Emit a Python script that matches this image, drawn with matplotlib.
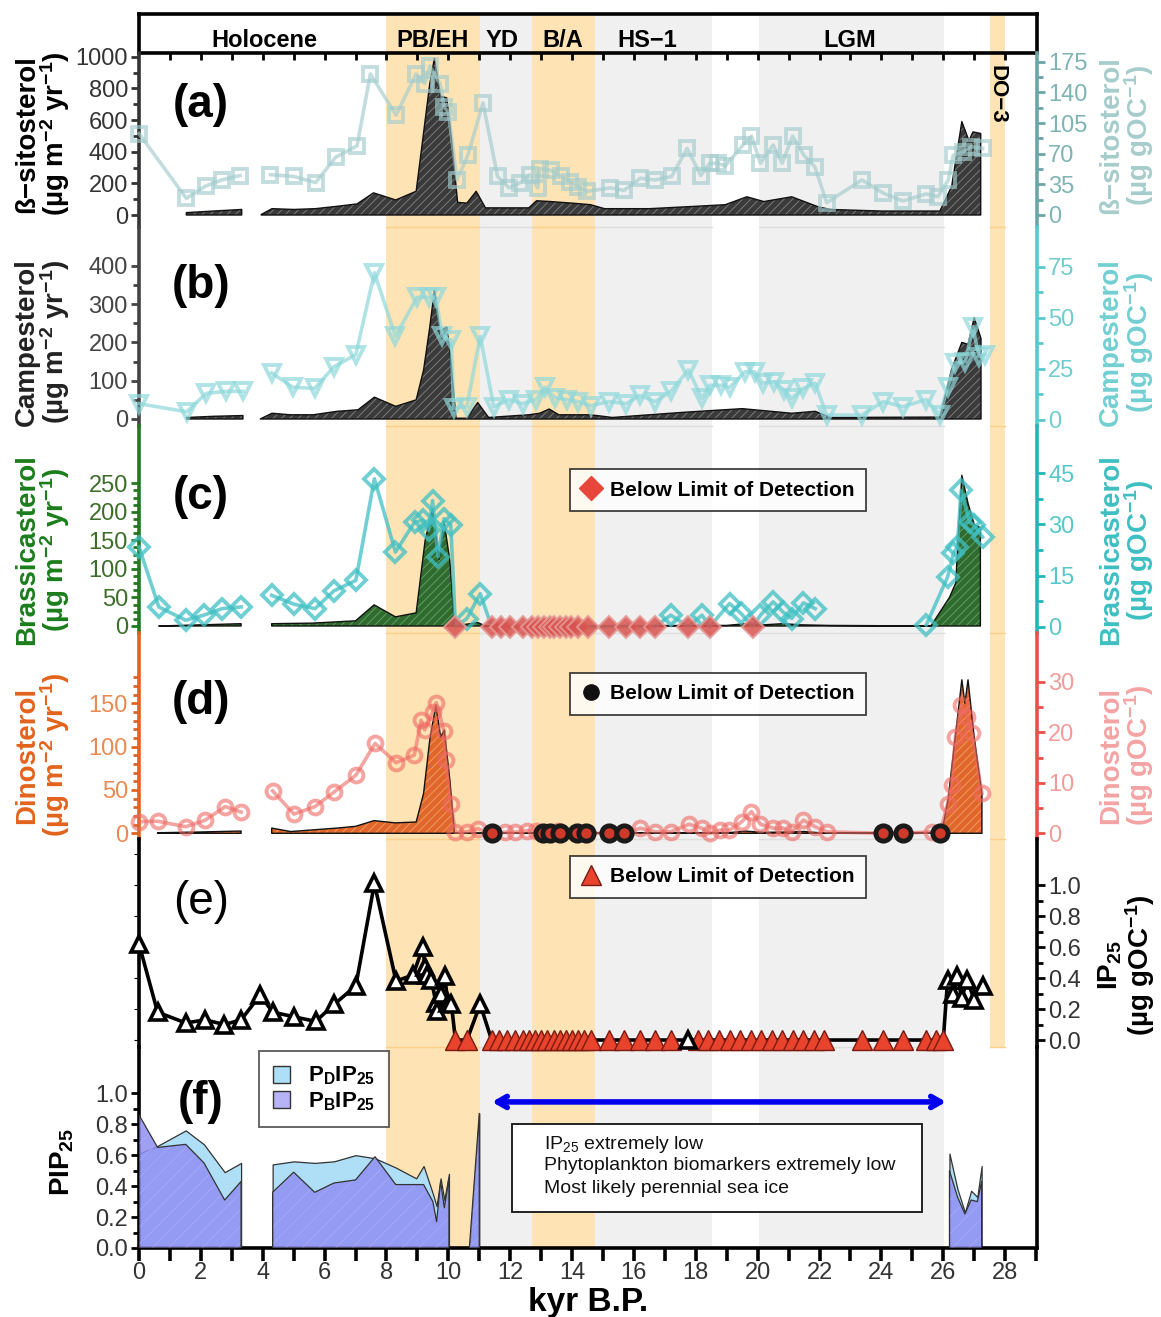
import numpy as np
import matplotlib.pyplot as plt
from matplotlib.patches import Rectangle, Patch
from matplotlib.lines import Line2D
from matplotlib.ticker import FixedLocator, FuncFormatter

plt.rcParams['font.family'] = ['Liberation Sans', 'DejaVu Sans']
plt.rcParams['mathtext.default'] = 'regular'
plt.rcParams['hatch.linewidth'] = 0.7

# ---- climate intervals (kyr B.P.) ----
period_names = ['Holocene', 'PB/EH', 'YD', 'B/A', 'HS\u22121', 'LGM']
period_mid = [4.04, 9.49, 11.75, 13.7, 16.44, 22.99]
warm_spans = [(8.0, 11.03), (12.7, 14.74)]
cold_spans = [(11.03, 12.7), (14.74, 18.52), (20.03, 26.01)]
do3_span = (27.5, 28.0)

# ---- (a) beta-sitosterol ----
a_flux_x1 = [1.53, 2.4, 3.32]
a_flux_y1 = [15, 25, 35]
a_flux_x2 = [3.95, 4.3, 5.0, 5.7, 6.4, 7.05, 7.58, 8.3, 8.96, 9.2, 9.4, 9.55, 9.75, 9.95, 10.1,
             10.3, 10.6, 10.9, 11.2, 12.6, 12.85, 13.3, 14.0, 14.6, 15.05, 16.5, 18.0, 18.95,
             19.65, 20.2, 21.1, 21.98, 22.36, 24.0, 25.89, 26.27, 26.6, 26.83, 26.96, 27.21]
a_flux_y2 = [3, 40, 35, 40, 55, 70, 140, 95, 150, 520, 830, 990, 750, 740, 480,
             80, 75, 150, 45, 45, 90, 85, 75, 65, 40, 40, 55, 65,
             115, 85, 115, 50, 35, 25, 25, 180, 590, 470, 525, 515]
a_age = [0.0, 1.53, 2.15, 2.68, 3.26, 4.25, 5.0, 5.71, 6.36, 7.05, 7.48, 8.31, 8.96, 9.24, 9.4,
         9.73, 9.86, 10.0, 10.28, 10.63, 11.12, 11.59, 11.96, 12.33, 12.64, 12.89, 12.95, 13.32,
         13.63, 13.94, 14.19, 14.48, 15.24, 15.68, 16.21, 16.68, 17.22, 17.72, 18.16, 18.45,
         18.71, 18.95, 19.53, 19.8, 20.09, 20.5, 20.79, 21.13, 21.5, 21.85, 22.23, 23.37, 24.06,
         24.69, 25.45, 25.83, 26.16, 26.32, 26.64, 26.9, 27.27]
a_conc = [93, 19, 33, 40, 45, 46, 44, 37, 66, 79, 161, 114, 161, 150, 170,
          150, 123, 118, 40, 68, 128, 44, 31, 37, 46, 31, 53, 51,
          44, 38, 32, 27, 31, 28, 42, 40, 44, 76, 45, 59,
          59, 56, 80, 90, 59, 80, 59, 90, 68, 55, 14, 40, 25,
          16, 24, 21, 40, 68, 72, 78, 76]

# ---- (b) campesterol ----
b_flux_x1 = [1.54, 2.4, 3.36]
b_flux_y1 = [4, 7, 9]
b_flux_x2 = [3.92, 4.3, 4.9, 5.63, 6.4, 7.08, 7.61, 8.3, 8.96, 9.2, 9.4, 9.55, 9.73, 9.95, 10.05,
             10.25, 10.6, 10.95, 11.3, 12.6, 12.95, 13.26, 13.57, 14.55, 14.8, 15.3, 17.7, 19.5,
             21.1, 21.86, 22.36, 25.89, 26.27, 26.6, 26.8, 27.0, 27.22]
b_flux_y2 = [0, 15, 11, 11, 20, 24, 57, 33, 50, 128, 240, 337, 230, 240, 180,
             2, 2, 43, 4, 11, 15, 26, 11, 11, 9, 4, 18, 27,
             15, 20, 4, 5, 130, 200, 195, 265, 210]
b_age = [0.0, 1.54, 2.17, 2.81, 3.36, 4.29, 4.97, 5.68, 6.3, 7.01, 7.61, 8.29, 8.99, 9.36, 9.6,
         9.8, 10.1, 10.17, 10.6, 11.03, 11.47, 11.96, 12.4, 12.83, 13.13, 13.44, 13.82, 14.19,
         14.61, 15.18, 15.75, 16.19, 16.69, 17.19, 17.76, 18.2, 18.45, 18.83, 19.09, 19.59, 19.9,
         20.16, 20.53, 20.85, 21.1, 21.48, 21.86, 22.23, 23.37, 24.06, 24.69, 25.45, 25.89,
         26.14, 26.39, 26.71, 26.96, 27.15, 27.34]
b_conc = [8, 4, 13, 14, 14, 23, 16, 15.5, 26, 32, 72, 41, 60, 60, 60,
          41, 39, 5.7, 6.5, 41, 6.5, 10, 8, 10, 16, 11, 10, 9,
          7, 9, 8, 12, 9, 14, 24.5, 10.6, 17, 17, 16, 23.6, 23.6,
          18, 18.7, 14.7, 10.6, 15.5, 18, 2.4, 2.4, 9, 6.5, 10, 2.4,
          16, 28, 28.5, 45.6, 31, 32]

# ---- (c) brassicasterol ----
c_flux_x1 = [0.64, 2.0, 3.3]
c_flux_y1 = [0, 2, 4]
c_flux_x2 = [4.29, 5.6, 7.0, 7.6, 8.29, 8.96, 9.25, 9.49, 9.7, 9.86, 10.05, 10.2, 10.95, 11.2,
             19.0, 19.6, 20.2, 20.8, 21.4, 22.3, 25.6, 26.2, 26.4, 26.6, 26.8, 27.0, 27.2]
c_flux_y2 = [4, 5, 9, 37, 16, 23, 150, 205, 117, 184, 114, 0, 6, 0,
             1, 4, 2, 4, 2, 1, 0, 50, 75, 264, 215, 178, 172]
c_age = [0.0, 0.64, 1.51, 2.1, 2.68, 3.3, 4.29, 5.01, 5.69, 6.3, 7.01, 7.61, 8.29, 8.91, 9.18,
         9.36, 9.49, 9.67, 9.86, 10.08, 10.6, 11.03, 17.19, 18.2, 19.09, 19.46, 20.09, 20.5,
         20.82, 21.1, 21.48, 21.86, 25.45, 26.14, 26.33, 26.45, 26.58, 26.85, 27.0, 27.27]
c_conc = [23.4, 5.8, 1.9, 3.4, 5.3, 5.8, 9.2, 6.6, 5.3, 10.5, 13.6, 43.4, 21.9, 30.7, 31.2,
          28.3, 37, 20.5, 31.7, 29.8, 2.4, 9.7, 3.4, 3.4, 6.8, 3.9, 3.4, 7.3,
          4.3, 2.4, 7, 5.3, 0.5, 14.6, 21.5, 23.4, 40, 30.7, 29.8, 26.3]
c_bld = [10.23, 11.4, 11.7, 12.0, 12.4, 12.7, 12.9, 13.1, 13.3, 13.41, 13.6, 13.8, 13.95, 14.2,
         14.5, 15.18, 15.75, 16.21, 16.69, 17.76, 18.45, 19.84]

# ---- (d) dinosterol ----
d_flux_x1 = [0.6, 2.0, 3.3]
d_flux_y1 = [0.6, 1.5, 2.6]
d_flux_x2 = [4.29, 4.9, 6.4, 7.0, 7.6, 8.28, 8.96, 9.2, 9.4, 9.6, 9.75, 9.87, 10.05, 10.2,
             19.0, 19.6, 20.2, 21.0, 21.5, 22.2, 25.95, 26.15, 26.4, 26.6, 26.7, 26.8, 27.0, 27.25]
d_flux_y2 = [6, 2, 6, 8, 14.6, 12, 13, 46, 108, 148, 111, 119, 61, 0,
             0.5, 2.5, 1, 1.5, 2, 0, 1, 38, 115, 177, 150, 177, 111, 46]
d_age = [0.0, 0.6, 1.51, 2.14, 2.79, 3.3, 4.32, 5.01, 5.69, 6.31, 7.01, 7.63, 8.31, 8.9, 9.12,
         9.24, 9.49, 9.61, 9.86, 9.92, 10.08, 10.23, 10.6, 10.95, 11.84, 12.15, 12.53, 12.83,
         13.54, 16.21, 16.69, 17.19, 17.78, 18.2, 18.45, 18.77, 19.08, 19.49, 19.8, 20.09,
         20.51, 20.82, 21.1, 21.48, 21.86, 22.23, 25.64, 26.14, 26.27, 26.39, 26.58, 26.77,
         26.93, 27.25]
d_conc = [2.3, 2.4, 1.3, 2.6, 5.3, 4.2, 8.4, 3.8, 5.3, 8.2, 11.5, 17.8, 14, 15.5, 22.4,
          20.5, 24, 25.9, 20.3, 14.5, 5.9, 0.2, 0.3, 0.9, 0.2, 0.2, 0.5, 0.5,
          0.5, 1, 0.3, 0.3, 1.8, 1, 0, 0.6, 0.6, 2.3, 4.3, 1.8,
          1, 1, 0.2, 2.6, 1.3, 0.3, 0.3, 5.9, 9.6, 19.1, 25.4, 23.1,
          19.8, 7.9]
d_bld = [11.41, 13.05, 13.3, 13.6, 14.15, 14.45, 15.18, 15.68, 24.06, 24.69, 25.89]

# ---- (e) IP25 ----
e_age = [0.0, 0.6, 1.51, 2.14, 2.76, 3.3, 3.92, 4.32, 5.01, 5.71, 6.31, 7.01, 7.61, 8.31, 8.86,
         9.18, 9.24, 9.3, 9.45, 9.6, 9.63, 9.77, 9.89, 9.98, 10.1, 11.03, 17.76, 26.14, 26.3,
         26.45, 26.6, 26.77, 27.0, 27.27]
e_conc = [0.62, 0.18, 0.11, 0.13, 0.10, 0.13, 0.29, 0.18, 0.15, 0.12, 0.23, 0.35, 1.01, 0.38, 0.42,
          0.6, 0.47, 0.42, 0.39, 0.24, 0.19, 0.3, 0.41, 0.24, 0.23, 0.23, 0.0, 0.39, 0.3,
          0.41, 0.27, 0.39, 0.26, 0.35]
e_bld = [10.23, 10.6, 11.4, 11.65, 11.9, 12.15, 12.4, 12.6, 12.8, 13.0, 13.2, 13.4, 13.6, 13.8,
         14.0, 14.2, 14.4, 14.6, 15.18, 15.68, 16.19, 16.69, 17.19, 18.07, 18.41, 18.75, 19.09,
         19.43, 19.77, 20.11, 20.45, 20.79, 21.13, 21.47, 21.81, 22.15, 23.37, 24.06, 24.69,
         25.45, 25.75, 26.0]

# ---- (f) PIP25 (four core segments) ----
f_x1 = [0.0, 0.6, 1.51, 2.1, 2.77, 3.3]
f_pd1 = [0.61, 0.66, 0.76, 0.67, 0.49, 0.55]
f_pb1 = [0.86, 0.65, 0.67, 0.55, 0.31, 0.43]
f_x2 = [4.32, 5.0, 5.68, 6.3, 7.0, 7.63, 8.3, 8.96, 9.2, 9.5, 9.62, 9.75, 9.87, 10.02]
f_pd2 = [0.54, 0.56, 0.55, 0.56, 0.60, 0.58, 0.52, 0.45, 0.53, 0.35, 0.27, 0.45, 0.31, 0.48]
f_pb2 = [0.36, 0.49, 0.36, 0.42, 0.44, 0.59, 0.41, 0.41, 0.41, 0.30, 0.17, 0.43, 0.26, 0.45]
f_x3 = [10.68, 11.0]
f_pd3 = [0.0, 0.87]
f_pb3 = [0.0, 0.87]
f_x4 = [26.2, 26.46, 26.7, 26.9, 27.1, 27.24]
f_pd4 = [0.61, 0.38, 0.23, 0.37, 0.33, 0.53]
f_pb4 = [0.50, 0.33, 0.22, 0.31, 0.30, 0.43]

# ---------------- layout helpers ----------------
W, H = 1161, 1317
XL, XR = 139, 1037
XMAX = 29.03
ORANGE = '#fee3b4'
GRAY = '#f0f0f0'

fig = plt.figure(figsize=(W / 100, H / 100), dpi=100)


def box(y0, y1):
    return [XL / W, 1 - y1 / H, (XR - XL) / W, (y1 - y0) / H]


def fx(px):
    return px / W


def fy(py):
    return 1 - py / H


# background shading
bg = fig.add_axes(box(14, 1248))
bg.set_xlim(0, XMAX)
bg.set_ylim(1248, 14)
bg.axis('off')
for x0, x1 in warm_spans:
    bg.add_patch(Rectangle((x0, 14), x1 - x0, 1234, fc=ORANGE, ec='none'))
for x0, x1 in cold_spans:
    bg.add_patch(Rectangle((x0, 14), x1 - x0, 1234, fc=GRAY, ec='none'))
bg.add_patch(Rectangle((do3_span[0], 14), do3_span[1] - do3_span[0], 1034, fc=ORANGE, ec='none'))
for yb in [227, 426, 633, 839, 1047]:
    for x0, x1 in warm_spans + [do3_span]:
        bg.plot([x0, x1], [yb, yb], color='#fcd08c', lw=1)
    for x0, x1 in cold_spans:
        bg.plot([x0, x1], [yb, yb], color='#dedede', lw=1)

# header
hdr = fig.add_axes(box(14, 53))
hdr.patch.set_visible(False)
hdr.set_xlim(0, XMAX)
hdr.set_ylim(0, 1)
for s in hdr.spines.values():
    s.set_linewidth(2.6)
hdr.set_yticks([])
hdr.set_xticks(range(1, 29))
hdr.tick_params(axis='x', direction='out', length=5, width=2, labelbottom=False)
for name, xm in zip(period_names, period_mid):
    hdr.text(xm, 0.31, name, ha='center', va='center', fontsize=17, fontweight='bold')
fig.text(fx(997), fy(94), 'DO\u22123', rotation=-90, ha='center', va='center',
         fontsize=16, fontweight='bold')


def make_panel(y0, y1, ylim):
    ax = fig.add_axes(box(y0, y1))
    ax.patch.set_visible(False)
    ax.set_xlim(0, XMAX)
    ax.set_ylim(*ylim)
    for s in ['top', 'bottom', 'right']:
        ax.spines[s].set_visible(False)
    ax.spines['left'].set_linewidth(2.6)
    ax.tick_params(axis='x', bottom=False, labelbottom=False)
    return ax


def add_right(ax, ylim):
    tw = ax.twinx()
    tw.set_xlim(0, XMAX)
    tw.set_ylim(*ylim)
    for s in ['top', 'bottom', 'left']:
        tw.spines[s].set_visible(False)
    tw.spines['right'].set_linewidth(2.6)
    tw.tick_params(axis='x', bottom=False, labelbottom=False)
    return tw


def yticks(ax, major, minor, spine_c, label_c, fmt, side):
    ax.yaxis.set_major_locator(FixedLocator(major))
    ax.yaxis.set_minor_locator(FixedLocator(minor))
    ax.yaxis.set_major_formatter(FuncFormatter(lambda v, p: fmt.format(v)))
    ax.spines[side].set_color(spine_c)
    ax.tick_params(axis='y', which='both', direction='out', color=spine_c,
                   labelcolor=label_c, labelsize=17, width=2, pad=2)
    ax.tick_params(axis='y', which='major', length=6)
    ax.tick_params(axis='y', which='minor', length=4)


def flux(ax, xs, ys, face, hatch_c):
    ax.fill_between(xs, ys, 0, facecolor=face, edgecolor=hatch_c, hatch='////',
                    linewidth=0, zorder=2)
    ax.fill_between(xs, ys, 0, facecolor='none', edgecolor='#111111', linewidth=1.0, zorder=2.1)


def conc(ax, ages, vals, bld, marker, color, ms, alpha, breaks=(3.8,)):
    x = np.concatenate([np.asarray(ages, float), np.asarray(bld, float)])
    y = np.concatenate([np.asarray(vals, float), np.zeros(len(bld))])
    o = np.argsort(x)
    x, y = x[o], y[o]
    for b in sorted(breaks, reverse=True):
        i = np.searchsorted(x, b)
        x = np.insert(x, i, np.nan)
        y = np.insert(y, i, np.nan)
    ax.plot(x, y, color=color, lw=2.6, alpha=alpha, zorder=3, clip_on=False)
    ax.plot(ages, vals, ls='none', marker=marker, ms=ms, mfc='none', mec=color, mew=2.8,
            alpha=alpha, zorder=4, clip_on=False)


def side_label(x, y, text, color, size=20):
    fig.text(fx(x), fy(y), text, rotation=90, ha='center', va='center', color=color,
             fontsize=size, fontweight='bold', linespacing=0.95, multialignment='center')


bld_prop = dict(weight='bold', size=15)


def bld_legend(ax, handle, ycen):
    leg = ax.legend([handle], ['Below Limit of Detection'], loc='center',
                    bbox_to_anchor=(fx(718), fy(ycen)), bbox_transform=fig.transFigure,
                    prop=bld_prop, frameon=True, fancybox=False, edgecolor='#111111',
                    handlelength=0.9, handletextpad=0.5, borderpad=0.55, borderaxespad=0)
    leg.get_frame().set_linewidth(1.3)
    leg.set_zorder(10)


# ---------------- (a) ----------------
ax_a = make_panel(53, 227, (-75.8, 1023.4))
yticks(ax_a, range(0, 1001, 200), range(0, 1001, 100), '#333333', '#333333', '{:.0f}', 'left')
tw_a = add_right(ax_a, (-13.7, 184.9))
yticks(tw_a, range(0, 176, 35), np.arange(0, 176, 17.5), '#6aa5a7', '#7fb3b4', '{:.0f}', 'right')
flux(ax_a, a_flux_x1, a_flux_y1, '#3a3a3a', '#7a7a7a')
flux(ax_a, a_flux_x2, a_flux_y2, '#3a3a3a', '#7a7a7a')
conc(tw_a, a_age, a_conc, [], 's', '#a3cccd', 10, 0.65)

# ---------------- (b) ----------------
ax_b = make_panel(227, 426, (-18.3, 501.3))
yticks(ax_b, range(0, 401, 100), range(0, 401, 50), '#444444', '#444444', '{:.0f}', 'left')
tw_b = add_right(ax_b, (-2.94, 94.4))
yticks(tw_b, range(0, 76, 25), np.arange(0, 76, 12.5), '#5cc7cb', '#6fcdd0', '{:.0f}', 'right')
flux(ax_b, b_flux_x1, b_flux_y1, '#3a3a3a', '#7a7a7a')
flux(ax_b, b_flux_x2, b_flux_y2, '#3a3a3a', '#7a7a7a')
conc(tw_b, b_age, b_conc, [], 'v', '#8fd8db', 12, 0.7)

# ---------------- (c) ----------------
ax_c = make_panel(426, 633, (-12.3, 350.3))
yticks(ax_c, range(0, 251, 50), np.arange(0, 251, 12.5), '#1f7a1f', '#3c6e2a', '{:.0f}', 'left')
tw_c = add_right(ax_c, (-1.85, 58.9))
yticks(tw_c, range(0, 46, 15), np.arange(0, 46, 7.5), '#22b5b8', '#56c8ca', '{:.0f}', 'right')
flux(ax_c, c_flux_x1, c_flux_y1, '#2f6b2f', '#5e9e5e')
flux(ax_c, c_flux_x2, c_flux_y2, '#2f6b2f', '#5e9e5e')
conc(tw_c, c_age, c_conc, c_bld, 'D', '#3fc0c3', 10, 0.75, breaks=(3.8, 22.5))
tw_c.plot(c_bld, np.zeros(len(c_bld)), ls='none', marker='D', ms=11, mfc='#d9534f',
          mec='#e49a96', mew=1.5, alpha=0.85, zorder=5, clip_on=False)
bld_legend(tw_c, Line2D([], [], ls='none', marker='D', ms=12, mfc='#e8463a', mec='#e8463a'), 490)

# ---------------- (d) ----------------
ax_d = make_panel(633, 839, (-6.6, 231.0))
yticks(ax_d, range(0, 151, 50), range(0, 181, 10), '#e2631c', '#e98a52', '{:.0f}', 'left')
tw_d = add_right(ax_d, (-1.13, 39.7))
yticks(tw_d, range(0, 31, 10), range(0, 31, 5), '#e8504a', '#f29c9a', '{:.0f}', 'right')
flux(ax_d, d_flux_x1, d_flux_y1, '#e0662a', '#f29a66')
flux(ax_d, d_flux_x2, d_flux_y2, '#e0662a', '#f29a66')
conc(tw_d, d_age, d_conc, d_bld, 'o', '#ee6a64', 10, 0.6)
tw_d.plot(d_bld, np.zeros(len(d_bld)), ls='none', marker='o', ms=11, mfc='#d03a2a',
          mec='#1a1a1a', mew=3.5, zorder=5, clip_on=False)
bld_legend(tw_d, Line2D([], [], ls='none', marker='o', ms=11, mfc='#111111', mec='#111111'), 694)

# ---------------- (e) ----------------
ax_e = make_panel(839, 1047, (-0.045, 1.297))
ax_e.spines['left'].set_color('black')
ax_e.tick_params(axis='y', left=False, labelleft=False)
tw_e = add_right(ax_e, (-0.045, 1.297))
yticks(tw_e, np.arange(0, 1.01, 0.2), np.arange(0, 1.01, 0.1), 'black', '#333333', '{:.1f}', 'right')
e_x = np.concatenate([e_age, e_bld])
e_y = np.concatenate([e_conc, np.zeros(len(e_bld))])
e_o = np.argsort(e_x)
tw_e.plot(e_x[e_o], e_y[e_o], color='black', lw=2.6, zorder=3, clip_on=False)
tw_e.plot(e_bld, np.zeros(len(e_bld)), ls='none', marker='^', ms=14, mfc='#e8432d',
          mec='#7a1a10', mew=1, zorder=4, clip_on=False)
tw_e.plot(e_age, e_conc, ls='none', marker='^', ms=12, mfc='white', mec='black', mew=2.6,
          zorder=5, clip_on=False)
bld_legend(tw_e, Line2D([], [], ls='none', marker='^', ms=14, mfc='#e8432d', mec='#7a1a10'), 877)

# ---------------- (f) ----------------
ax_f = make_panel(1047, 1248, (0, 1.299))
yticks(ax_f, np.arange(0, 1.01, 0.2), np.arange(0, 1.01, 0.1), 'black', '#333333', '{:.1f}', 'left')
ax_f.spines['bottom'].set_visible(True)
ax_f.spines['bottom'].set_linewidth(2.6)
ax_f.spines['right'].set_visible(True)
ax_f.spines['right'].set_linewidth(2.6)
ax_f.set_xticks(range(0, 30))
ax_f.xaxis.set_major_formatter(FuncFormatter(lambda v, p: '%d' % v if int(v) % 2 == 0 and v < 29 else ''))
ax_f.tick_params(axis='x', bottom=True, labelbottom=True, direction='out', length=9, width=2.6,
                 labelsize=17, labelcolor='#333333', pad=1)
for xs, pd, pb in [(f_x1, f_pd1, f_pb1), (f_x2, f_pd2, f_pb2), (f_x3, f_pd3, f_pb3), (f_x4, f_pd4, f_pb4)]:
    ax_f.fill_between(xs, pd, 0, facecolor='#aedff7', edgecolor='#333333', linewidth=0.9, zorder=2)
    ax_f.fill_between(xs, pb, 0, facecolor='#8f8ff2', edgecolor='#a9a9fb', hatch='//',
                      linewidth=0, alpha=0.85, zorder=3)
    ax_f.fill_between(xs, pb, 0, facecolor='none', edgecolor='#333333', linewidth=0.9, zorder=3.1)
leg_f = ax_f.legend([Patch(facecolor='#aedff7', edgecolor='#333333'),
                     Patch(facecolor='#b7b3f7', edgecolor='#333333')],
                    ['P$_D$IP$_{25}$', 'P$_B$IP$_{25}$'], loc='center',
                    bbox_to_anchor=(fx(324), fy(1089)), bbox_transform=fig.transFigure,
                    prop=dict(size=16, weight='bold'), frameon=True, fancybox=False,
                    edgecolor='#333333', handlelength=0.8, handleheight=0.8, handletextpad=0.8,
                    borderpad=0.6, labelspacing=0.15, borderaxespad=0)
leg_f.get_frame().set_linewidth(1.3)

# perennial sea-ice interval
ax_f.annotate('', xy=(26.09, 0.944), xytext=(11.41, 0.944),
              arrowprops=dict(arrowstyle='<->,head_length=0.7,head_width=0.4', color='#0000ee',
                              lw=4, shrinkA=0, shrinkB=0))
ax_f.add_patch(Rectangle((12.06, 0.235), 25.3 - 12.06, 0.80 - 0.235, fc='white', ec='#222222',
                         lw=1.4, zorder=6))
for ty, line in zip([0.672, 0.531, 0.383], ['IP$_{25}$ extremely low',
                                             'Phytoplankton biomarkers extremely low',
                                             'Most likely perennial sea ice']):
    ax_f.text(13.1, ty, line, fontsize=14, va='center', ha='left', zorder=7, color='#111111')

# ---------------- labels ----------------
for lab, y in zip(['(a)', '(b)', '(c)', '(d)', '(e)', '(f)'], [105, 286, 497, 702, 902, 1102]):
    fig.text(fx(201), fy(y), lab, ha='center', va='center', fontsize=33,
             fontweight='normal' if lab == '(e)' else 'bold')

side_label(43, 134, '\u00df\u2212sitosterol\n(\u00b5g m$^{-2}$ yr$^{-1}$)', 'black')
side_label(43, 342, 'Campesterol\n(\u00b5g m$^{-2}$ yr$^{-1}$)', '#222222')
side_label(43, 550, 'Brassicasterol\n(\u00b5g m$^{-2}$ yr$^{-1}$)', '#1b7d1b')
side_label(43, 755, 'Dinosterol\n(\u00b5g m$^{-2}$ yr$^{-1}$)', '#e2631c')
side_label(62, 1162, 'PIP$_{25}$', 'black')

side_label(1127, 135, '\u00df\u2212sitosterol\n(\u00b5g gOC$^{-1}$)', '#a6cccc')
side_label(1127, 342, 'Campesterol\n(\u00b5g gOC$^{-1}$)', '#72cfd2')
side_label(1127, 550, 'Brassicasterol\n(\u00b5g gOC$^{-1}$)', '#3dbfc2')
side_label(1127, 755, 'Dinosterol\n(\u00b5g gOC$^{-1}$)', '#f4a3a3')
side_label(1127, 965, 'IP$_{25}$\n(\u00b5g gOC$^{-1}$)', 'black')

fig.text(fx(588), fy(1302), 'kyr B.P.', ha='center', va='center', fontsize=24, fontweight='bold')

fig.savefig('out.png', dpi=100)
